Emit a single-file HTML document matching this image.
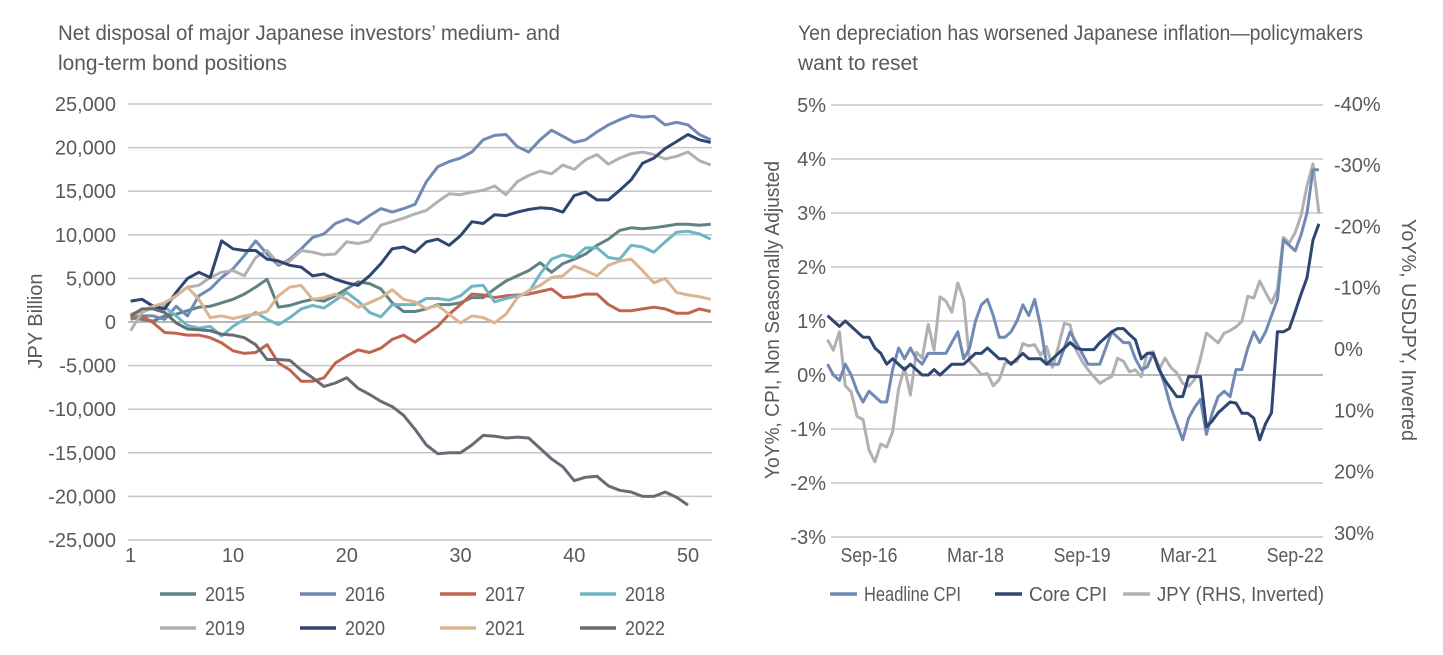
<!DOCTYPE html>
<html><head><meta charset="utf-8"><style>
html,body{margin:0;padding:0;background:#fff;}
svg{display:block;font-family:"Liberation Sans",sans-serif;}
text{fill:#595959;}
</style></head><body>
<svg id="s" width="1443" height="655" viewBox="0 0 1443 655">
<g>
<text x="58" y="40" font-size="21" textLength="502" lengthAdjust="spacingAndGlyphs">Net disposal of major Japanese investors’ medium- and</text>
<text x="58" y="70" font-size="21" textLength="229" lengthAdjust="spacingAndGlyphs">long-term bond positions</text>
<g id="lgrid"></g>
<g id="lyt"></g>
<g id="lxt"></g>
<text transform="translate(42,321) rotate(-90)" text-anchor="middle" font-size="20" textLength="95" lengthAdjust="spacingAndGlyphs">JPY Billion</text>
<g id="lser"></g>
<g id="lleg"></g>
</g>
<g>
<text x="798" y="40" font-size="21" textLength="565" lengthAdjust="spacingAndGlyphs">Yen depreciation has worsened Japanese inflation—policymakers</text>
<text x="798" y="70" font-size="21" textLength="120" lengthAdjust="spacingAndGlyphs">want to reset</text>
<g id="rgrid"></g>
<g id="ryl"></g>
<g id="ryr"></g>
<g id="rxt"></g>
<text transform="translate(779,320) rotate(-90)" text-anchor="middle" font-size="20" textLength="318" lengthAdjust="spacingAndGlyphs">YoY%, CPI, Non Seasonally Adjusted</text>
<text transform="translate(1402,330) rotate(90)" text-anchor="middle" font-size="20" textLength="222" lengthAdjust="spacingAndGlyphs">YoY%, USDJPY, Inverted</text>
<g id="rser"></g>
<g id="rleg"></g>
</g>
</svg>
<script>
// ---------- Left chart data (JPY billion, thousands) ----------
const weekTicks = [1,10,20,30,40,50];
const leftYTicks = [25000,20000,15000,10000,5000,0,-5000,-10000,-15000,-20000,-25000];
const seriesNames = ["2015","2016","2017","2018","2019","2020","2021","2022"];
const s2015 = [0.5,0.3,0.1,0.7,0.9,1.3,1.7,1.8,2.2,2.6,3.2,4.0,4.9,1.7,1.9,2.3,2.6,2.4,3.0,3.8,4.6,4.4,3.8,2.2,1.2,1.2,1.5,2.0,2.0,2.2,2.8,2.8,3.8,4.7,5.3,5.9,6.8,5.7,6.7,7.2,7.8,8.8,9.5,10.5,10.8,10.7,10.8,11.0,11.2,11.2,11.1,11.2];
const s2016 = [0.3,0.7,0.7,0.3,1.8,0.7,3.0,3.8,5.1,6.1,7.6,9.3,7.8,6.5,7.2,8.4,9.7,10.1,11.3,11.8,11.3,12.2,13.0,12.6,13.0,13.5,16.1,17.8,18.4,18.8,19.5,20.9,21.4,21.5,20.1,19.5,20.9,22.0,21.3,20.6,20.9,21.8,22.6,23.2,23.7,23.5,23.6,22.6,22.9,22.6,21.5,20.9];
const s2017 = [0.5,0.7,-0.1,-1.2,-1.3,-1.5,-1.5,-1.8,-2.4,-3.3,-3.6,-3.5,-2.6,-4.7,-5.5,-6.8,-6.8,-6.4,-4.7,-3.9,-3.2,-3.5,-3.0,-2.0,-1.5,-2.3,-1.4,-0.5,0.9,2.0,3.2,3.1,2.8,3.0,3.1,3.2,3.5,3.8,2.8,2.9,3.2,3.2,2.0,1.3,1.3,1.5,1.7,1.5,1.0,1.0,1.5,1.2];
const s2018 = [0.7,1.3,1.7,1.7,0.7,-0.4,-0.7,-0.5,-1.6,-0.5,0.3,1.1,0.3,-0.3,0.5,1.5,1.9,1.6,2.5,3.4,2.4,1.1,0.6,2.0,2.0,2.0,2.7,2.7,2.5,3.0,4.1,4.2,2.3,2.7,3.0,3.4,5.5,7.2,7.7,7.4,8.5,8.5,7.4,7.2,8.8,8.6,8.0,9.2,10.3,10.4,10.1,9.5];
const s2019 = [-1.0,1.1,1.7,2.0,3.0,4.0,4.2,5.1,5.7,5.9,5.3,7.4,8.2,6.7,7.0,8.2,8.0,7.7,7.8,9.2,9.0,9.3,11.1,11.5,11.9,12.4,12.8,13.8,14.7,14.6,14.9,15.1,15.6,14.6,16.1,16.8,17.3,17.0,18.0,17.5,18.6,19.2,18.1,18.8,19.3,19.5,19.2,18.7,19.0,19.5,18.5,18.0];
const s2020 = [2.4,2.6,1.8,1.5,3.4,5.0,5.7,5.1,9.3,8.4,8.2,8.2,7.2,7.0,6.5,6.3,5.3,5.5,4.9,4.5,4.2,5.3,6.7,8.4,8.6,8.0,9.2,9.5,8.8,9.9,11.5,11.3,12.3,12.2,12.6,12.9,13.1,13.0,12.6,14.5,14.9,14.0,14.0,15.1,16.3,18.2,18.8,19.9,20.7,21.5,20.9,20.6];
const s2021 = [0.9,1.3,1.8,2.2,3.0,4.0,2.6,0.5,0.7,0.4,0.7,0.9,1.2,3.0,4.0,4.2,2.6,2.8,3.2,2.6,1.7,2.2,2.8,3.7,2.6,2.3,1.5,1.9,0.9,-0.1,0.7,0.5,-0.1,0.9,2.8,3.6,4.2,5.1,5.3,6.4,5.9,5.3,6.5,7.0,7.2,5.9,4.5,5.0,3.4,3.1,2.9,2.6];
const s2022 = [0.7,1.5,1.5,1.1,-0.1,-0.8,-0.9,-1.0,-1.4,-1.5,-1.8,-2.6,-4.3,-4.3,-4.4,-5.5,-6.4,-7.4,-7.0,-6.4,-7.6,-8.3,-9.1,-9.7,-10.7,-12.3,-14.1,-15.1,-15.0,-15.0,-14.1,-13.0,-13.1,-13.3,-13.2,-13.3,-14.5,-15.7,-16.6,-18.2,-17.8,-17.7,-18.8,-19.3,-19.5,-20.0,-20.0,-19.5,-20.1,-21.0];
const leftColors = ["#5f8283","#7189b5","#c0654d","#70b5c4","#b1b1b1","#2e4670","#dbb591","#656c75"];

// ---------- Right chart data (monthly, Feb-2016 .. Jan-2023) ----------
const monthTickLabels = ["Sep-16","Mar-18","Sep-19","Mar-21","Sep-22"];
const monthTickIdx = [8,26,44,62,80];
const leftPctTicks = [5,4,3,2,1,0,-1,-2,-3];
const rightPctTicks = [-40,-30,-20,-10,0,10,20,30];
const headline = [0.2,0.0,-0.1,0.2,0.0,-0.3,-0.5,-0.3,-0.4,-0.5,-0.5,0.1,0.5,0.3,0.5,0.3,0.2,0.4,0.4,0.4,0.4,0.6,0.8,0.3,0.5,1.0,1.3,1.4,1.1,0.7,0.7,0.8,1.0,1.3,1.1,1.4,0.9,0.2,0.2,0.2,0.5,0.8,0.6,0.4,0.2,0.2,0.2,0.5,0.8,0.7,0.6,0.6,0.3,0.1,0.15,0.4,0.15,-0.2,-0.6,-0.9,-1.2,-0.8,-0.6,-0.45,-1.1,-0.7,-0.4,-0.3,-0.4,0.1,0.1,0.5,0.8,0.6,0.8,1.1,1.4,2.5,2.4,2.3,2.6,3.0,3.8,3.8];
const core = [1.1,1.0,0.9,1.0,0.9,0.8,0.7,0.7,0.5,0.4,0.2,0.3,0.2,0.1,0.2,0.1,0.0,0.0,0.1,0.0,0.1,0.2,0.2,0.2,0.3,0.4,0.4,0.5,0.4,0.3,0.3,0.2,0.3,0.4,0.3,0.3,0.3,0.2,0.3,0.4,0.5,0.6,0.5,0.47,0.47,0.47,0.6,0.7,0.8,0.86,0.86,0.75,0.65,0.3,0.4,0.4,0.1,-0.1,-0.25,-0.4,-0.4,-0.03,-0.03,-0.03,-0.96,-0.85,-0.7,-0.6,-0.5,-0.52,-0.71,-0.71,-0.8,-1.2,-0.9,-0.7,0.8,0.8,0.86,1.17,1.5,1.8,2.5,2.8];
const jpy = [-1.5,0.2,-2.8,6.0,7.0,11,11.5,16.5,18.4,15.5,16,13.5,6.5,3,7.5,0.5,1.5,-4,0.2,-8.5,-7.8,-6,-10.8,-8,2,3,4.2,4,6,5,2.3,2.2,2,-0.9,-0.5,-0.7,1,-0.4,3,-0.4,-4.2,-3.9,0.2,2,3.4,4.5,5.6,5,4.5,1.5,2,3.7,3.4,4.5,0.7,0.4,3.4,1.5,3,3.9,5.6,6.1,5,1.5,-2.6,-1.8,-1,-2.6,-3,-3.6,-4.5,-8.6,-8.3,-11.1,-9.2,-7.5,-9.7,-18.2,-17.3,-19,-21.8,-26.6,-30.2,-22.2];

const NS="http://www.w3.org/2000/svg";
function mk(tag,attrs,parent,txt){const e=document.createElementNS(NS,tag);for(const k in attrs)e.setAttribute(k,attrs[k]);if(txt!==undefined)e.textContent=txt;parent.appendChild(e);return e;}

// left axes
const lx = w => 130.6 + (w-1)*11.375;
const ly = v => 322 - v/5000*43.6;
const lgrid=document.getElementById('lgrid'), lyt=document.getElementById('lyt'), lxt=document.getElementById('lxt');
leftYTicks.forEach(v=>{
  const g=mk('line',{x1:128,x2:712,y1:ly(v),y2:ly(v),stroke:v===0?'#a0a0a0':'#c6c6c6','stroke-width':1.5},lgrid);
  
  
  const t=mk('text',{x:116,y:ly(v)+7,'text-anchor':'end','font-size':20},lyt,v.toLocaleString('en-US'));
  
  
});
weekTicks.forEach(w=>{
  const t=mk('text',{x:lx(w),y:562,'text-anchor':'middle','font-size':20},lxt,String(w));
  
  
});
const lser=document.getElementById('lser');
const leftData=[s2015,s2016,s2017,s2018,s2019,s2020,s2021,s2022];
leftData.forEach((arr,i)=>{
  const d=arr.map((v,k)=>(k?'L':'M')+lx(k+1).toFixed(1)+','+ly(v*1000).toFixed(1)).join(' ');
  const p=mk('path',{d:d,fill:'none',stroke:leftColors[i],'stroke-width':3,'stroke-linejoin':'round'},lser);
  
  
});
const lleg=document.getElementById('lleg');
const legX=[160,300,440,580];
seriesNames.forEach((n,i)=>{
  const x=legX[i%4], y=i<4?594:628;
  const l=mk('line',{x1:x,x2:x+36,y1:y,y2:y,stroke:leftColors[i],'stroke-width':3.5},lleg);
  
  
  const t=mk('text',{x:x+45,y:y+7,'font-size':20,textLength:40,lengthAdjust:'spacingAndGlyphs'},lleg,n);
  
  
});

// right axes
const rx = m => 821.6 + m*5.92;
const ryL = v => 375 - v*54;
const ryR = v => 349 + v*6.13;
const rgrid=document.getElementById('rgrid'), ryl=document.getElementById('ryl'), ryr=document.getElementById('ryr'), rxt=document.getElementById('rxt');
leftPctTicks.forEach(v=>{
  const g=mk('line',{x1:831,x2:1323,y1:ryL(v),y2:ryL(v),stroke:v===0?'#a0a0a0':'#c6c6c6','stroke-width':1.5},rgrid);
  
  
  const t=mk('text',{x:826,y:ryL(v)+7,'text-anchor':'end','font-size':20},ryl,v+'%');
  
  
});
rightPctTicks.forEach(v=>{
  const t=mk('text',{x:1334,y:ryR(v)+7,'font-size':20},ryr,v+'%');
  
  
});
monthTickIdx.forEach((m,i)=>{
  const t=mk('text',{x:rx(m),y:562,'text-anchor':'middle','font-size':20,textLength:57,lengthAdjust:'spacingAndGlyphs'},rxt,monthTickLabels[i]);
  
  
});
const rser=document.getElementById('rser');
function rline(arr,yf,color,name){
  const d=arr.map((v,k)=>(k?'L':'M')+rx(k+1).toFixed(1)+','+yf(v).toFixed(1)).join(' ');
  const p=mk('path',{d:d,fill:'none',stroke:color,'stroke-width':3,'stroke-linejoin':'round'},rser);
  
  
}
rline(jpy,ryR,'#b1b1b1','line-jpy');
rline(headline,ryL,'#7189b5','line-headline-cpi');
rline(core,ryL,'#2e4670','line-core-cpi');
const rleg=document.getElementById('rleg');
[["Headline CPI","#7189b5",830,97],["Core CPI","#2e4670",995,78],["JPY (RHS, Inverted)","#b1b1b1",1123,167]].forEach(e=>{
  const l=mk('line',{x1:e[2],x2:e[2]+27,y1:594,y2:594,stroke:e[1],'stroke-width':3.5},rleg);
  
  
  const t=mk('text',{x:e[2]+34,y:601,'font-size':20,textLength:e[3],lengthAdjust:'spacingAndGlyphs'},rleg,e[0]);
  
  
});
</script>
</body></html>
